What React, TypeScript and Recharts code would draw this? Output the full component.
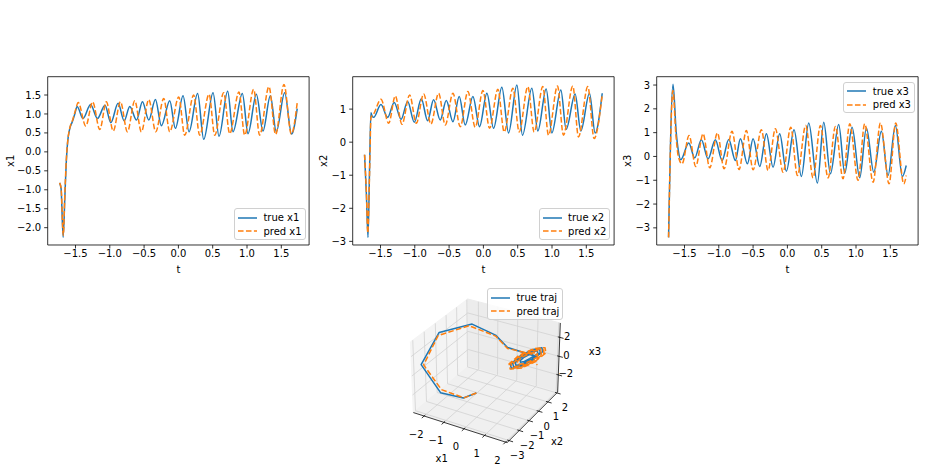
import React from 'react';
import { LineChart, Line, XAxis, YAxis, ReferenceArea, Legend, ScatterChart, Scatter } from 'recharts';

const FONT = '"DejaVu Sans", Verdana, sans-serif';
const BLUE = '#1f77b4';
const ORANGE = '#ff7f0e';
const DASH = '5.55 2.4';

// ---------- time-series data (t, value) ----------
const tTrueX1 = [-1.732,-1.71,-1.68,-1.655,-1.635,-1.615,-1.585,-1.545,-1.51,-1.476,-1.39,-1.28,-1.18,-1.07,-0.985,-0.879,-0.79,-0.709,-0.61,-0.524,-0.432,-0.335,-0.248,-0.126,-0.044,0.068,0.155,0.28,0.369,0.505,0.592,0.718,0.796,0.932,1.015,1.136,1.233,1.34,1.427,1.549,1.65,1.732];
const vTrueX1 = [-0.82,-0.97,-2.255,-1.2,-0.3,0.25,0.6,0.8,1.0,1.2,0.88,1.25,0.88,1.23,0.77,1.28,0.82,1.2,0.84,1.32,0.84,1.38,0.69,1.35,0.62,1.48,0.53,1.54,0.33,1.56,0.41,1.6,0.53,1.54,0.48,1.52,0.55,1.48,0.53,1.56,0.47,1.14];
const tPredX1 = [-1.732,-1.71,-1.678,-1.655,-1.635,-1.612,-1.58,-1.54,-1.5,-1.46,-1.35,-1.25,-1.146,-1.05,-0.95,-0.845,-0.743,-0.636,-0.54,-0.432,-0.33,-0.214,-0.126,0.005,0.092,0.223,0.31,0.447,0.53,0.66,0.748,0.883,0.966,1.097,1.184,1.32,1.417,1.539,1.646,1.732];
const vPredX1 = [-0.82,-0.95,-2.2,-1.1,-0.25,0.3,0.65,0.85,1.1,1.3,0.68,1.32,0.59,1.32,0.55,1.32,0.53,1.35,0.53,1.38,0.53,1.41,0.53,1.45,0.44,1.5,0.44,1.52,0.44,1.56,0.48,1.58,0.44,1.65,0.44,1.72,0.46,1.78,0.47,1.3];

const tTrueX2 = [-1.732,-1.705,-1.682,-1.66,-1.64,-1.62,-1.6,-1.493,-1.396,-1.3,-1.2,-1.104,-1.007,-0.905,-0.813,-0.726,-0.629,-0.541,-0.444,-0.352,-0.265,-0.153,-0.056,0.051,0.148,0.269,0.367,0.488,0.57,0.706,0.794,0.915,0.998,1.129,1.206,1.337,1.42,1.546,1.629,1.732];
const vTrueX2 = [-0.38,-1.6,-2.88,-0.9,0.89,0.78,0.75,1.14,0.75,1.2,0.69,1.23,0.6,1.31,0.65,1.28,0.67,1.26,0.62,1.38,0.52,1.38,0.47,1.48,0.42,1.66,0.28,1.73,0.21,1.63,0.34,1.61,0.28,1.58,0.39,1.46,0.34,1.48,0.28,1.48];
const tPredX2 = [-1.732,-1.705,-1.685,-1.66,-1.638,-1.6,-1.493,-1.38,-1.284,-1.187,-1.075,-0.978,-0.871,-0.765,-0.653,-0.556,-0.444,-0.337,-0.226,-0.119,-0.007,0.09,0.211,0.303,0.43,0.522,0.648,0.74,0.866,0.949,1.08,1.167,1.303,1.386,1.522,1.614,1.732];
const vPredX2 = [-0.38,-1.55,-2.75,-1.0,0.75,0.85,1.3,0.57,1.4,0.54,1.43,0.57,1.46,0.55,1.48,0.52,1.48,0.47,1.53,0.45,1.56,0.42,1.6,0.31,1.63,0.31,1.68,0.31,1.68,0.21,1.7,0.21,1.7,0.16,1.68,0.11,1.43];

const tTrueX3 = [-1.732,-1.667,-1.62,-1.59,-1.555,-1.438,-1.351,-1.254,-1.156,-1.05,-0.952,-0.855,-0.758,-0.685,-0.583,-0.5,-0.403,-0.306,-0.209,-0.112,-0.015,0.097,0.204,0.311,0.437,0.53,0.627,0.748,0.836,0.943,1.054,1.152,1.259,1.37,1.467,1.574,1.676,1.732];
const vTrueX3 = [-3.4,3.03,1.0,0.25,-0.14,0.56,-0.06,0.7,-0.1,0.7,-0.17,0.71,-0.17,0.74,-0.31,0.74,-0.42,0.95,-0.45,0.95,-0.62,1.12,-0.84,1.41,-1.12,1.44,-0.73,1.34,-0.7,1.23,-0.9,1.2,-0.66,1.06,-0.8,1.3,-0.84,-0.38];
const tPredX3 = [-1.732,-1.669,-1.625,-1.59,-1.535,-1.433,-1.336,-1.229,-1.132,-1.02,-0.923,-0.807,-0.705,-0.598,-0.5,-0.379,-0.282,-0.175,-0.063,0.049,0.146,0.267,0.374,0.481,0.593,0.7,0.811,0.909,1.03,1.127,1.249,1.356,1.482,1.579,1.696,1.732];
const vPredX3 = [-3.4,2.77,0.9,0.0,-0.31,0.88,-0.42,0.95,-0.48,0.99,-0.52,1.06,-0.55,1.09,-0.56,1.12,-0.59,1.16,-0.66,1.23,-0.8,1.3,-0.9,1.3,-0.9,1.26,-0.94,1.37,-1.0,1.37,-1.08,1.41,-1.15,1.41,-1.15,-0.8];

// ---------- 3D trajectory (x1, x2, x3) ----------
const trajTrueX1 = [-0.84,-0.95,-1.47,-2.26,-2.2,-1.4,-0.45,0.15,
  1.194,1.21,1.103,0.936,0.806,0.79,0.897,1.064,
  1.34,1.368,1.181,0.888,0.66,0.632,0.819,1.112,
  1.413,1.447,1.219,0.863,0.587,0.553,0.781,1.137,
  1.486,1.526,1.258,0.839,0.514,0.474,0.742,1.161,1.14];
const trajTrueX2 = [-0.4,-1.45,-2.6,-2.86,-1.3,0.3,0.75,0.75,
  1.21,1.134,0.95,0.766,0.69,0.766,0.95,1.134,
  1.405,1.272,0.95,0.628,0.495,0.628,0.95,1.272,
  1.503,1.341,0.95,0.559,0.398,0.559,0.95,1.341,
  1.6,1.41,0.95,0.49,0.3,0.49,0.95,1.41,1.48];
const trajTrueX3 = [-3.42,-3.0,-1.64,1.05,3.0,2.95,1.95,1.0,
  0.35,0.599,0.614,0.386,0.05,-0.199,-0.214,0.014,
  0.463,0.898,0.924,0.526,-0.063,-0.498,-0.524,-0.126,
  0.52,1.047,1.079,0.596,-0.12,-0.647,-0.679,-0.196,
  0.576,1.197,1.234,0.665,-0.176,-0.797,-0.834,-0.265,-0.38];
const trajPredX1 = [-0.84,-0.93,-1.45,-2.2,-2.2,-1.55,-0.45,0.15,
  1.351,1.376,1.21,0.95,0.749,0.724,0.89,1.15,
  1.461,1.495,1.268,0.914,0.639,0.605,0.832,1.186,
  1.543,1.583,1.312,0.887,0.557,0.517,0.788,1.213,
  1.597,1.643,1.341,0.869,0.503,0.457,0.759,1.231,1.3];
const trajPredX2 = [-0.4,-1.43,-2.55,-2.75,-1.4,0.3,0.75,0.75,
  1.368,1.246,0.95,0.654,0.532,0.654,0.95,1.246,
  1.52,1.353,0.95,0.547,0.38,0.547,0.95,1.353,
  1.634,1.434,0.95,0.466,0.266,0.466,0.95,1.434,
  1.71,1.487,0.95,0.413,0.19,0.413,0.95,1.487,1.43];
const trajPredX3 = [-3.42,-3.0,-1.35,0.95,2.77,2.7,1.85,0.9,
  0.317,0.75,0.861,0.585,0.083,-0.35,-0.461,-0.185,
  0.359,0.949,1.101,0.725,0.041,-0.549,-0.701,-0.325,
  0.391,1.099,1.282,0.83,0.009,-0.699,-0.882,-0.43,
  0.412,1.199,1.402,0.9,-0.012,-0.799,-0.998,-0.5,-0.8];

// ---------- ticks / domains ----------
const T_DOMAIN: [number, number] = [-1.905, 1.905];
const T_TICKS = [-1.5, -1, -0.5, 0, 0.5, 1, 1.5];
const Y1_DOMAIN: [number, number] = [-2.457, 1.983];
const Y1_TICKS = [-2, -1.5, -1, -0.5, 0, 0.5, 1, 1.5];
const Y2_DOMAIN: [number, number] = [-3.11, 1.98];
const Y2_TICKS = [-3, -2, -1, 0, 1];
const Y3_DOMAIN: [number, number] = [-3.72, 3.35];
const Y3_TICKS = [-3, -2, -1, 0, 1, 2, 3];

const BOX1: [number, number] = [-2.555, 2.075];
const BOX2: [number, number] = [-3.196, 2.086];
const BOX3: [number, number] = [-3.89, 3.49];
const TICKS3D_X1 = [-2, -1, 0, 1, 2];
const TICKS3D_X2 = [-3, -2, -1, 0, 1, 2];
const TICKS3D_X3 = [-2, 0, 2];

// ---------- helpers ----------
type Pt = { t: number; v: number };
const zip = (t: number[], v: number[]): Pt[] => t.map((x, i) => ({ t: x, v: v[i] }));
const minus = (s: string) => s.replace('-', '\u2212');
const fmt1 = (v: number) => minus(Number(v).toFixed(1));
const fmt0 = (v: number) => minus(Number(v).toFixed(0));

const LegendBox = ({ items }: { items: { label: string; color: string; dash?: string }[] }) => (
  <div style={{ border: '1px solid #d0d0d0', borderRadius: 3, background: 'rgba(255,255,255,0.8)', padding: '2px 3px 1px 3px', fontFamily: FONT, fontSize: 10, color: '#000', lineHeight: '13.3px' }}>
    {items.map((it) => (
      <div key={it.label} style={{ display: 'flex', alignItems: 'center', height: 13.3, whiteSpace: 'nowrap' }}>
        <svg width={19} height={6} style={{ display: 'block' }}>
          <line x1={0} y1={3} x2={19} y2={3} stroke={it.color} strokeWidth={1.5} strokeDasharray={it.dash} />
        </svg>
        <span style={{ marginLeft: 6.5 }}>{it.label}</span>
      </div>
    ))}
  </div>
);

// ---------- 2D panel geometry ----------
const CW = 316.1, CH = 290;
const PL = 47.7, PT = 76.7, PW = 261.4, PH = 168.3;
const YW = 40, XH = 30;
const PR = CW - PL - PW;
const PB = CH - PT - PH - XH;
const TICK_LINE = { stroke: '#000', strokeWidth: 0.8 };
const TICK_TEXT = { fill: '#000', fontSize: 10, fontFamily: FONT };

function Panel(props: any) {
  const { left, trueData, predData, yDomain, yTicks, yFmt, yName, yLabelDist, items, legendTop } = props;
  const legendStyle: any = {
    left: 'auto', right: CW - (PL + PW) + 3.5, width: 'auto', height: 'auto',
    top: legendTop != null ? legendTop : 'auto',
    bottom: legendTop != null ? 'auto' : CH - (PT + PH) + 5,
  };
  return (
    <div style={{ position: 'absolute', left, top: 0 }}>
      <LineChart width={CW} height={CH} margin={{ top: PT, right: PR, bottom: PB, left: PL - YW }}>
        <XAxis type="number" dataKey="t" domain={T_DOMAIN} allowDataOverflow ticks={T_TICKS} interval={0}
          tickFormatter={fmt1} height={XH} tickSize={3.5} tickMargin={1.4} axisLine={false}
          tickLine={TICK_LINE} tick={TICK_TEXT}
          label={() => <text x={PL + PW / 2} y={273} textAnchor="middle" fontSize={10} fill="#000" fontFamily={FONT}>t</text>} />
        <YAxis type="number" domain={yDomain} allowDataOverflow ticks={yTicks} interval={0}
          tickFormatter={yFmt} width={YW} tickSize={3.5} tickMargin={3} axisLine={false}
          tickLine={TICK_LINE} tick={TICK_TEXT}
          label={() => (
            <text x={PL - yLabelDist} y={PT + PH / 2} textAnchor="middle" dominantBaseline="central" fontSize={10} fill="#000" fontFamily={FONT}
              transform={`rotate(-90, ${PL - yLabelDist}, ${PT + PH / 2})`}>{yName}</text>
          )} />
        <ReferenceArea x1={T_DOMAIN[0]} x2={T_DOMAIN[1]} y1={yDomain[0]} y2={yDomain[1]} fill="none" fillOpacity={0} stroke="#000" strokeWidth={0.8} strokeOpacity={1} />
        <Line data={trueData} dataKey="v" type="monotone" stroke={BLUE} strokeWidth={1.5} dot={false} activeDot={false} isAnimationActive={false} />
        <Line data={predData} dataKey="v" type="monotone" stroke={ORANGE} strokeWidth={1.5} strokeDasharray={DASH} dot={false} activeDot={false} isAnimationActive={false} />
        <Legend layout="vertical" align="center" verticalAlign="middle" wrapperStyle={legendStyle} content={() => <LegendBox items={items} />} />
      </LineChart>
    </div>
  );
}

// ---------- 3D projection (elev 30, azim -60, perspective) ----------
const EL = (30 * Math.PI) / 180, AZ = (-60 * Math.PI) / 180, DIST = 20;
const E = [Math.cos(EL) * Math.cos(AZ), Math.cos(EL) * Math.sin(AZ), Math.sin(EL)];
const U = [-Math.sin(AZ), Math.cos(AZ), 0];
const V = [-Math.sin(EL) * Math.cos(AZ), -Math.sin(EL) * Math.sin(AZ), Math.cos(EL)];
const ZS = 0.75;
const nx = (a: number) => (a - (BOX1[0] + BOX1[1]) / 2) / ((BOX1[1] - BOX1[0]) / 2);
const ny = (a: number) => (a - (BOX2[0] + BOX2[1]) / 2) / ((BOX2[1] - BOX2[0]) / 2);
const nz = (a: number) => ((a - (BOX3[0] + BOX3[1]) / 2) / ((BOX3[1] - BOX3[0]) / 2)) * ZS;
function projN(X: number, Y: number, Z: number) {
  const d = X * E[0] + Y * E[1] + Z * E[2];
  const f = DIST / (DIST - d);
  return { px: (X * U[0] + Y * U[1]) * f, py: (X * V[0] + Y * V[1] + Z * V[2]) * f };
}
const proj = (a: number, b: number, c: number) => projN(nx(a), ny(b), nz(c));

const C3_LEFT = 380, C3_TOP = 280, C3_W = 240, C3_H = 192;
const SCALE = 53.8, CXP = 486.6, CYP = 367.9;
const DX: [number, number] = [(C3_LEFT - CXP) / SCALE, (C3_LEFT + C3_W - CXP) / SCALE];
const DY: [number, number] = [(CYP - (C3_TOP + C3_H)) / SCALE, (CYP - C3_TOP) / SCALE];

const ZL = -ZS, ZH = ZS;
const paneXPts = [[-1, -1, ZL], [-1, -1, ZH], [-1, 1, ZH], [-1, 1, ZL]].map((p) => projN(p[0], p[1], p[2]));
const paneYPts = [[-1, 1, ZL], [-1, 1, ZH], [1, 1, ZH], [1, 1, ZL]].map((p) => projN(p[0], p[1], p[2]));
const paneZPts = [[-1, -1, ZL], [-1, 1, ZL], [1, 1, ZL], [1, -1, ZL]].map((p) => projN(p[0], p[1], p[2]));

const gridN: number[][] = [];
TICKS3D_X1.forEach((t) => { const X = nx(t); gridN.push([X, -1, ZL], [X, 1, ZL], [X, 1, ZL], [X, 1, ZH]); });
TICKS3D_X2.forEach((t) => { const Y = ny(t); gridN.push([-1, Y, ZL], [1, Y, ZL], [-1, Y, ZL], [-1, Y, ZH]); });
TICKS3D_X3.forEach((t) => { const Z = nz(t); gridN.push([-1, -1, Z], [-1, 1, Z], [-1, 1, Z], [1, 1, Z]); });
const gridPts = gridN.map((p) => projN(p[0], p[1], p[2]));

const axisPts = [[-1, -1, ZL], [1, -1, ZL], [1, -1, ZL], [1, 1, ZL], [1, 1, ZL], [1, 1, ZH]].map((p) => projN(p[0], p[1], p[2]));

const tickN: number[][] = [];
TICKS3D_X1.forEach((t) => { const X = nx(t); tickN.push([X, -1 + 0.04, ZL], [X, -1 - 0.08, ZL]); });
TICKS3D_X2.forEach((t) => { const Y = ny(t); tickN.push([1 - 0.04, Y, ZL], [1 + 0.08, Y, ZL]); });
TICKS3D_X3.forEach((t) => { const Z = nz(t); tickN.push([1 - 0.04, 1, Z], [1 + 0.08, 1, Z]); });
const tickPts = tickN.map((p) => projN(p[0], p[1], p[2]));

const labelPts = [
  ...TICKS3D_X1.map((t) => ({ ...projN(nx(t), -1, ZL), label: fmt0(t), dx: -8, dy: 18 })),
  ...TICKS3D_X2.map((t) => ({ ...projN(1, ny(t), ZL), label: fmt0(t), dx: 8, dy: 15 })),
  ...TICKS3D_X3.map((t) => ({ ...projN(1, 1, nz(t)), label: fmt0(t), dx: 7.5, dy: -1 })),
  { ...projN(0, -1, ZL), label: 'x1', dx: -17.5, dy: 31 },
  { ...projN(1, 0, ZL), label: 'x2', dx: 23.7, dy: 25.5 },
  { ...projN(1, 1, 0), label: 'x3', dx: 36, dy: -6.5 },
];

const trueTraj = trajTrueX1.map((a, i) => proj(a, trajTrueX2[i], trajTrueX3[i]));
const predTraj = trajPredX1.map((a, i) => proj(a, trajPredX2[i], trajPredX3[i]));

const noShape = () => <g />;
const polyLine = (fill: string) => (p: any) => {
  const pts = p.points || [];
  const d = 'M' + pts.map((q: any) => `${q.x},${q.y}`).join('L') + 'Z';
  return <path d={d} fill={fill} stroke={fill} strokeWidth={1} />;
};
const segLine = (stroke: string, w: number) => (p: any) => {
  const pts = p.points || [];
  let d = '';
  for (let i = 0; i + 1 < pts.length; i += 2) d += `M${pts[i].x},${pts[i].y}L${pts[i + 1].x},${pts[i + 1].y}`;
  return <path d={d} fill="none" stroke={stroke} strokeWidth={w} />;
};
const pathLine = (stroke: string, w: number, dash?: string) => (p: any) => {
  const pts = p.points || [];
  const d = 'M' + pts.map((q: any) => `${q.x},${q.y}`).join('L');
  return <path d={d} fill="none" stroke={stroke} strokeWidth={w} strokeDasharray={dash} strokeLinejoin="round" />;
};
const textShape = (props: any) => {
  const pl = props.payload || {};
  return (
    <text x={props.cx + (pl.dx || 0)} y={props.cy + (pl.dy || 0)} textAnchor="middle" dominantBaseline="central" fontSize={10} fill="#000" fontFamily={FONT}>
      {pl.label}
    </text>
  );
};

function Traj3D() {
  return (
    <div style={{ position: 'absolute', left: C3_LEFT, top: C3_TOP }}>
      <ScatterChart width={C3_W} height={C3_H} margin={{ top: 0, right: 0, bottom: 0, left: 0 }}>
        <XAxis type="number" dataKey="px" domain={DX} allowDataOverflow hide />
        <YAxis type="number" dataKey="py" domain={DY} allowDataOverflow hide />
        <Scatter data={paneXPts} line={polyLine('#f4f4f4')} shape={noShape} isAnimationActive={false} legendType="none" />
        <Scatter data={paneYPts} line={polyLine('#ececec')} shape={noShape} isAnimationActive={false} legendType="none" />
        <Scatter data={paneZPts} line={polyLine('#f0f0f0')} shape={noShape} isAnimationActive={false} legendType="none" />
        <Scatter data={gridPts} line={segLine('#d2d2d2', 0.8)} shape={noShape} isAnimationActive={false} legendType="none" />
        <Scatter data={axisPts} line={segLine('#000', 0.75)} shape={noShape} isAnimationActive={false} legendType="none" />
        <Scatter data={tickPts} line={segLine('#000', 0.8)} shape={noShape} isAnimationActive={false} legendType="none" />
        <Scatter data={trueTraj} line={pathLine(BLUE, 1.5)} shape={noShape} isAnimationActive={false} />
        <Scatter data={predTraj} line={pathLine(ORANGE, 1.5, DASH)} shape={noShape} isAnimationActive={false} />
        <Scatter data={labelPts} shape={textShape} isAnimationActive={false} legendType="none" />
        <Legend layout="vertical" align="center" verticalAlign="middle"
          wrapperStyle={{ left: 'auto', right: 56.7, top: 8.3, width: 'auto', height: 'auto' } as any}
          content={() => <LegendBox items={[{ label: 'true traj', color: BLUE }, { label: 'pred traj', color: ORANGE, dash: DASH }]} />} />
      </ScatterChart>
    </div>
  );
}

export default function App() {
  return (
    <div style={{ position: 'absolute', left: 0, top: 0, width: 926, height: 472, overflow: 'hidden', background: '#fff', fontFamily: FONT }}>
      <Panel left={0} trueData={zip(tTrueX1, vTrueX1)} predData={zip(tPredX1, vPredX1)} yDomain={Y1_DOMAIN} yTicks={Y1_TICKS} yFmt={fmt1}
        yName="x1" yLabelDist={36.7} items={[{ label: 'true x1', color: BLUE }, { label: 'pred x1', color: ORANGE, dash: DASH }]} />
      <Panel left={304.7} trueData={zip(tTrueX2, vTrueX2)} predData={zip(tPredX2, vPredX2)} yDomain={Y2_DOMAIN} yTicks={Y2_TICKS} yFmt={fmt0}
        yName="x2" yLabelDist={29.1} items={[{ label: 'true x2', color: BLUE }, { label: 'pred x2', color: ORANGE, dash: DASH }]} />
      <Panel left={609.4} trueData={zip(tTrueX3, vTrueX3)} predData={zip(tPredX3, vPredX3)} yDomain={Y3_DOMAIN} yTicks={Y3_TICKS} yFmt={fmt0}
        yName="x3" yLabelDist={28.8} legendTop={PT + 5} items={[{ label: 'true x3', color: BLUE }, { label: 'pred x3', color: ORANGE, dash: DASH }]} />
      <Traj3D />
    </div>
  );
}
